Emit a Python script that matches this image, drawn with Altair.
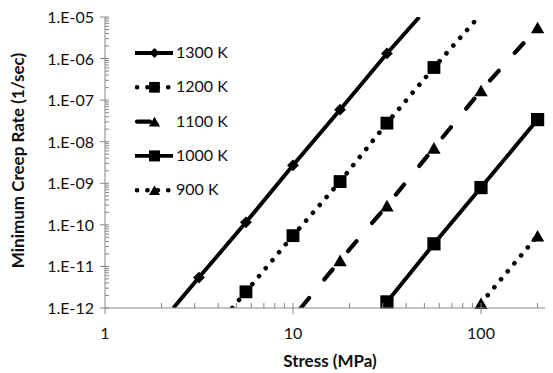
import altair as alt
import pandas as pd

# ---------------- data ----------------
series = ["1300 K", "1200 K", "1100 K", "1000 K", "900 K"]

stress_1300 = [3.16, 5.62, 10, 17.8, 31.6]
rate_1300 = [5.4e-12, 1.15e-10, 2.7e-9, 5.9e-8, 1.33e-6]

stress_1200 = [5.62, 10, 17.8, 31.6, 56.2]
rate_1200 = [2.45e-12, 5.5e-11, 1.1e-9, 2.8e-8, 6.1e-7]

stress_1100 = [17.8, 31.6, 56.2, 100, 200]
rate_1100 = [1.4e-11, 2.9e-10, 7.1e-9, 1.7e-7, 5.6e-6]

stress_1000 = [31.6, 56.2, 100, 200]
rate_1000 = [1.4e-12, 3.5e-11, 7.9e-10, 3.4e-8]

stress_900 = [100, 200]
rate_900 = [1.3e-12, 5.5e-11]

# where the drawn lines meet the plot border
line_start_stress = {"1300 K": 2.31, "1200 K": 4.75, "1100 K": 11.0}
line_start_rate = {"1300 K": 1e-12, "1200 K": 1e-12, "1100 K": 1e-12}
line_end_stress = {"1300 K": 47.0, "1200 K": 97.0}
line_end_rate = {"1300 K": 1e-5, "1200 K": 1e-5}

x_major = [1, 10, 100]
x_major_labels = ["1", "10", "100"]
x_minor = [2, 3, 4, 5, 6, 7, 8, 9, 10, 20, 30, 40, 50, 60, 70, 80, 90, 100, 200]
y_major = [1e-12, 1e-11, 1e-10, 1e-9, 1e-8, 1e-7, 1e-6, 1e-5]
y_major_labels = ["1.E-12", "1.E-11", "1.E-10", "1.E-09", "1.E-08", "1.E-07", "1.E-06", "1.E-05"]
y_minor = [k * m for m in [1e-12, 1e-11, 1e-10, 1e-9, 1e-8, 1e-7, 1e-6] for k in range(1, 10)] + [1e-5]
x_title = "Stress (MPa)"
y_title = "Minimum Creep Rate (1/sec)"

markers = {
    "1300 K": (stress_1300, rate_1300),
    "1200 K": (stress_1200, rate_1200),
    "1100 K": (stress_1100, rate_1100),
    "1000 K": (stress_1000, rate_1000),
    "900 K": (stress_900, rate_900),
}

# ---------------- styles ----------------
PLOT_W, PLOT_H = 440, 291
GREY = "#868686"
TXT = "#111111"
FONT = "Lato"
DOT = [0.1, 10.3]
DASH = [13, 24]
style = {
    "1300 K": dict(dash=None, sw=3.9, cap="butt", shape="diamond", size=140),
    "1200 K": dict(dash=DOT, sw=4.6, cap="round", shape="square", size=165),
    "1100 K": dict(dash=DASH, sw=4.2, cap="round", shape="triangle-up", size=180),
    "1000 K": dict(dash=None, sw=3.9, cap="butt", shape="square", size=175),
    "900 K": dict(dash=DOT, sw=4.6, cap="round", shape="triangle-up", size=175),
}

xscale = alt.Scale(type="log", domain=[1, 219], nice=False)
yscale = alt.Scale(type="log", domain=[1e-12, 1e-5], nice=False)


def X(field="stress"):
    return alt.X(f"{field}:Q", scale=xscale, axis=None)


def Y(field="rate"):
    return alt.Y(f"{field}:Q", scale=yscale, axis=None)


one = pd.DataFrame({"k": [0]})
layers = []

# series lines and markers
for name in series:
    st = style[name]
    xs, ys = markers[name]
    lx, ly = list(xs), list(ys)
    if name in line_start_stress:
        lx = [line_start_stress[name]] + lx
        ly = [line_start_rate[name]] + ly
    if name in line_end_stress:
        lx = lx + [line_end_stress[name]]
        ly = ly + [line_end_rate[name]]
    ldf = pd.DataFrame({"stress": lx, "rate": ly})
    kw = dict(color="black", strokeWidth=st["sw"], strokeCap=st["cap"], clip=True)
    if st["dash"]:
        kw["strokeDash"] = st["dash"]
    layers.append(alt.Chart(ldf).mark_line(**kw).encode(x=X(), y=Y()))
    mdf = pd.DataFrame({"stress": xs, "rate": ys})
    layers.append(alt.Chart(mdf).mark_point(filled=True, color="black", opacity=1,
                                            shape=st["shape"], size=st["size"]).encode(x=X(), y=Y()))

# ---- axes drawn as marks ----
layers.append(alt.Chart(one).mark_rule(color=GREY, strokeWidth=1).encode(
    x=alt.value(0), y=alt.value(0), y2=alt.value(PLOT_H)))
layers.append(alt.Chart(one).mark_rule(color=GREY, strokeWidth=1).encode(
    x=alt.value(0), x2=alt.value(PLOT_W), y=alt.value(PLOT_H)))
layers.append(alt.Chart(pd.DataFrame({"stress": x_minor})).mark_rule(color=GREY, strokeWidth=1).encode(
    x=X(), y=alt.value(PLOT_H), y2=alt.value(PLOT_H - 5)))
layers.append(alt.Chart(pd.DataFrame({"rate": y_minor})).mark_rule(color=GREY, strokeWidth=1).encode(
    y=Y(), x=alt.value(0), x2=alt.value(4)))
layers.append(alt.Chart(pd.DataFrame({"stress": x_major})).mark_rule(color=GREY, strokeWidth=1).encode(
    x=X(), y=alt.value(PLOT_H), y2=alt.value(PLOT_H + 6)))
layers.append(alt.Chart(pd.DataFrame({"rate": y_major})).mark_rule(color=GREY, strokeWidth=1).encode(
    y=Y(), x=alt.value(-5), x2=alt.value(0)))
layers.append(alt.Chart(pd.DataFrame({"stress": x_major, "lab": x_major_labels})).mark_text(
    align="center", baseline="middle", font=FONT, fontSize=16, color=TXT).encode(
    x=X(), y=alt.value(PLOT_H + 26), text="lab:N"))
layers.append(alt.Chart(pd.DataFrame({"rate": y_major, "lab": y_major_labels})).mark_text(
    align="right", baseline="middle", font=FONT, fontSize=16, color=TXT, dy=1).encode(
    y=Y(), x=alt.value(-11), text="lab:N"))
layers.append(alt.Chart(pd.DataFrame({"t": [x_title]})).mark_text(
    align="center", baseline="middle", font=FONT, fontSize=17, fontWeight="bold", color=TXT).encode(
    x=alt.value(225), y=alt.value(PLOT_H + 54), text="t:N"))
layers.append(alt.Chart(pd.DataFrame({"t": [y_title]})).mark_text(
    align="center", baseline="middle", font=FONT, fontSize=17, fontWeight="bold", color=TXT,
    angle=270).encode(
    x=alt.value(-86), y=alt.value(PLOT_H / 2 - 2), text="t:N"))

# ---- legend (inside plot, top-left) ----
LEG_Y0, LEG_DY = 36, 34.3
for i, name in enumerate(series):
    st = style[name]
    yy = LEG_Y0 + i * LEG_DY
    ldf = pd.DataFrame({"label": [name]})
    if st["dash"]:
        x0, x1 = 32, 64
    else:
        x0, x1 = 30, 68
    kw = dict(color="black", strokeWidth=st["sw"], strokeCap=st["cap"])
    if st["dash"]:
        kw["strokeDash"] = st["dash"]
    layers.append(alt.Chart(ldf).mark_rule(**kw).encode(
        x=alt.value(x0), x2=alt.value(x1), y=alt.value(yy)))
    layers.append(alt.Chart(ldf).mark_point(filled=True, color="black", opacity=1,
                                            shape=st["shape"], size=st["size"] * 0.7).encode(
        x=alt.value(49.5), y=alt.value(yy)))
    layers.append(alt.Chart(ldf).mark_text(align="left", baseline="middle", font=FONT,
                                           fontSize=16, color=TXT).encode(
        x=alt.value(71), y=alt.value(yy), text="label:N"))

chart = alt.layer(*layers).properties(
    width=PLOT_W, height=PLOT_H,
    autosize="none",
    padding={"left": 97, "top": 9, "right": 0, "bottom": 62},
).configure_view(stroke=None)

chart.save("out.html", embed_options={"renderer": "svg", "actions": False})
